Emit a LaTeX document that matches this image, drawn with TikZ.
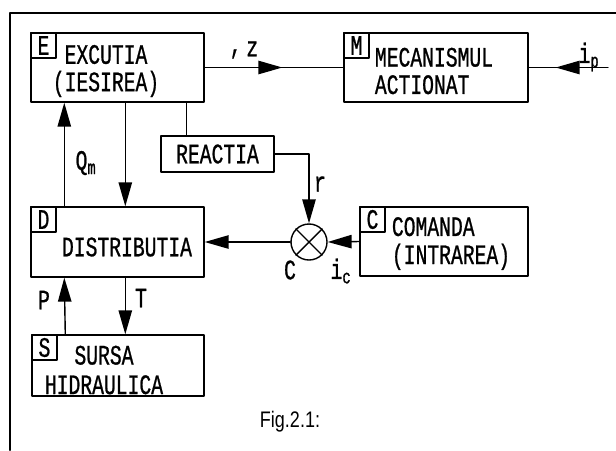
\documentclass[tikz,border=0pt]{standalone}
\usepackage{fontspec}
\setmainfont{Liberation Mono}[FakeStretch=0.7,FakeBold=0.8]
\newfontfamily\figfont{Liberation Sans}[FakeStretch=0.8]
\usetikzlibrary{arrows.meta,decorations.markings}

\begin{document}
\begin{tikzpicture}[
    x=0.025cm,
    y=-0.025cm,
    >={Triangle[length=17pt,width=9.5pt]},
    line cap=round,
    line join=round,
    blk/.style={draw,line width=1pt,inner sep=0pt},
    tag/.style={draw,line width=1pt,minimum size=0.625cm,inner sep=0pt,
        anchor=north west,font=\fontsize{20}{22}\selectfont},
    txt/.style={font=\fontsize{20}{19.5}\selectfont,inner sep=0pt},
    wire/.style={line width=1pt},
    midarrow/.style={postaction={decorate},
        decoration={markings,mark=at position #1 with {\arrow{>}}}}
]

\useasboundingbox (0,0) rectangle (616,450);

% Frame of the page
\draw[line width=1.8pt] (616,13) -- (10,13) -- (10,450);

% Blocks
\node[blk,minimum width=4.325cm,minimum height=1.725cm] (exc) at (117.5,67.5) {};
\node[blk,minimum width=4.6cm,minimum height=1.725cm]   (mec) at (436,67.5) {};
\node[blk,minimum width=2.825cm,minimum height=0.9cm,txt] (rea) at (217.5,154) {REACTIA};
\node[blk,minimum width=4.325cm,minimum height=1.75cm]  (dis) at (117.5,242) {};
\node[blk,minimum width=4.2cm,minimum height=1.725cm]   (com) at (444,241.5) {};
\node[blk,minimum width=4.3cm,minimum height=1.525cm]   (srs) at (118,365.5) {};

% Letter tags of the blocks
\node[tag] (exctag) at (exc.north west) {E};
\node[tag] (mectag) at (mec.north west) {M};
\node[tag] (distag) at (dis.north west) {D};
\node[tag] (comtag) at (com.north west) {C};
\node[tag] (srstag) at (srs.north west) {S};

% Texts of the blocks
\node[txt,align=center] (exctxt) at (106,71) {EXCUTIA\\(IESIREA)};
\node[txt,align=left]   (mectxt) at (434,71) {MECANISMUL\\ACTIONAT};
\node[txt]              (distxt) at (127,247) {DISTRIBUTIA};
\node[txt,align=left,font=\fontsize{20}{20}\selectfont] (comtxt) at (451,243.5) {COMANDA\\(INTRAREA)};
\node[txt,align=center,font=\fontsize{20}{21}\selectfont] (srstxt) at (104,370) {SURSA\\HIDRAULICA};

% Comparator
\node[draw,circle,line width=1pt,minimum size=0.9cm,inner sep=0pt] (sum) at (309,242) {};
\draw[wire] (sum.north west) -- (sum.south east);
\draw[wire] (sum.north east) -- (sum.south west);

% Output z towards the mechanism
\draw[wire,midarrow=0.56] (exc.east) -- (mec.west);

% Disturbance ip
\coordinate (ipin) at (608,67.5);
\draw[wire,midarrow=0.66] (ipin) -- (mec.east);

% Flow Qm from distribution to execution
\draw[wire,->] ([xshift=0.85cm]dis.north west) -- ([xshift=0.85cm]exc.south west);

% Execution back to distribution
\draw[wire,->] ([xshift=2.375cm]exc.south west) -- ([xshift=2.375cm]dis.north west);

% Execution to reaction
\draw[wire] ([xshift=3.9cm]exc.south west) -- ([xshift=3.9cm]exc.south west |- rea.north);

% Reaction r into the comparator
\draw[wire,->] (rea.east) -| (sum.north);

% Command ic into the comparator
\draw[wire,->] (com.west) -- (sum.east);

% Comparator to distribution
\draw[wire,->] (sum.west) -- (dis.east);

% Pressure P and return T
\draw[wire,->] ([xshift=0.85cm]srs.north west) -- ([xshift=0.85cm]dis.south west);
\draw[wire,->] ([xshift=2.375cm]dis.south west) -- ([xshift=2.375cm]dis.south west |- srs.north);

% Signal labels
\node[txt] (zlbl)  at (244,50) {\raisebox{2pt}{,}\,z};
\node[txt] (iplbl) at (589,57) {i\textsubscript{p}};
\node[txt] (qmlbl) at (86,163) {Q\textsubscript{m}};
\node[txt] (rlbl)  at (320,184) {r};
\node[txt] (clbl)  at (290,270) {C};
\node[txt] (iclbl) at (341,271) {i\textsubscript{c}};
\node[txt] (plbl)  at (44,300) {P};
\node[txt] (tlbl)  at (141,298) {T};

% Caption
\node[font=\figfont\fontsize{16}{19}\selectfont,inner sep=0pt] (cap) at (290,422) {Fig.2.1:};

\end{tikzpicture}
\end{document}
